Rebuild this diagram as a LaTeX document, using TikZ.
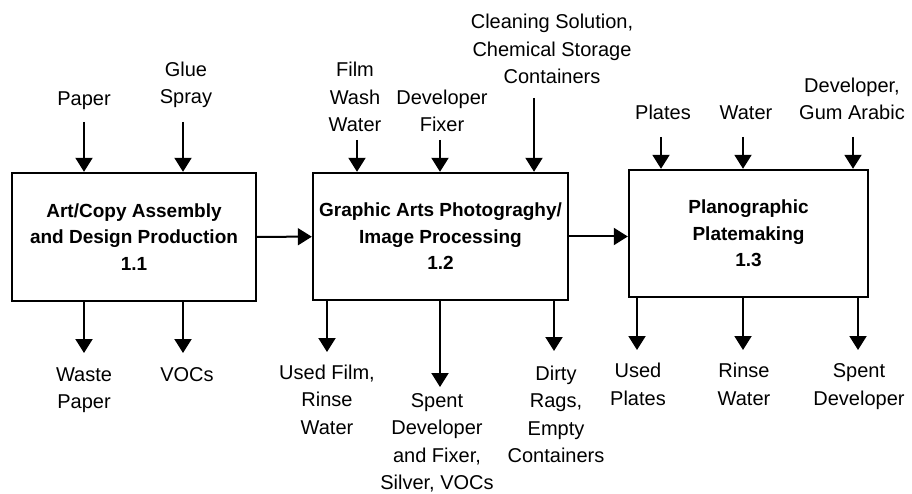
\documentclass[tikz,border=0pt]{standalone}
\usepackage{fontspec}
\setmainfont{Liberation Sans}
\usetikzlibrary{arrows.meta}

\begin{document}
\begin{tikzpicture}[x=1pt,y=-1pt,
    proc/.style={draw, line width=2.4pt, inner sep=0pt, align=center,
      font=\fontsize{19}{26.5}\selectfont\bfseries},
    lbl/.style={inner sep=0pt, align=center, anchor=base,
      font=\fontsize{20}{27.5}\selectfont},
    flow/.style={line width=2pt, -{Triangle[length=14pt,width=17pt]}}]
\useasboundingbox (0,0) rectangle (912,494);

\node[proc, minimum width=244pt, minimum height=128pt] (b1) at (134,237)
  {Art/Copy Assembly\\and Design Production\\1.1};
\node[proc, minimum width=255pt, minimum height=127pt] (b2) at (440.5,236.5)
  {Graphic Arts Photograghy/\\Image Processing\\1.2};
\node[proc, minimum width=239pt, minimum height=127pt] (b3) at (748.5,233.5)
  {Planographic\\Platemaking\\1.3};

\draw[flow] (b1) -- (b2);
\draw[flow] (b2.east) -- (b2.east -| b3.west);

\node[lbl] (paper) at (84,106) {Paper};
\node[lbl] (glue) at (186,104) {Glue\\Spray};
\node[lbl] (film) at (355,132) {Film\\Wash\\Water};
\node[lbl] (devfix) at (442,132) {Developer\\Fixer};
\node[lbl] (clean) at (552,84) {Cleaning Solution,\\Chemical Storage\\Containers};
\node[lbl] (plates) at (663,120) {Plates};
\node[lbl] (water) at (746,120) {Water};
\node[lbl] (devgum) at (852,120) {Developer,\\Gum Arabic};

\coordinate (paper-in) at (84,122);
\coordinate (glue-in) at (183,122);
\coordinate (film-in) at (357,140);
\coordinate (devfix-in) at (440,140);
\coordinate (clean-in) at (534,98);
\coordinate (plates-in) at (661,137);
\coordinate (water-in) at (743,137);
\coordinate (devgum-in) at (853,137);

\foreach \c/\b in {paper/b1, glue/b1, film/b2, devfix/b2, clean/b2,
    plates/b3, water/b3, devgum/b3}
  \draw[flow] (\c-in) -- (\c-in |- \b.north);

\node[lbl] (waste) at (84,408.5) {Waste\\Paper};
\node[lbl] (vocs) at (187,381) {VOCs};
\node[lbl] (usedfilm) at (327,434) {Used Film,\\Rinse\\Water};
\node[lbl] (spent) at (437,489.5) {Spent\\Developer\\and Fixer,\\Silver, VOCs};
\node[lbl] (dirty) at (556,462.5) {Dirty\\Rags,\\Empty\\Containers};
\node[lbl] (usedplates) at (638,405) {Used\\Plates};
\node[lbl] (rinse) at (744,405) {Rinse\\Water};
\node[lbl] (spentdev) at (859,405) {Spent\\Developer};

\coordinate (waste-out) at (84,353);
\coordinate (vocs-out) at (183,353);
\coordinate (usedfilm-out) at (327,352);
\coordinate (spent-out) at (440,387);
\coordinate (dirty-out) at (554,351);
\coordinate (usedplates-out) at (637,350);
\coordinate (rinse-out) at (743,350);
\coordinate (spentdev-out) at (858,350);

\foreach \c/\b in {waste/b1, vocs/b1, usedfilm/b2, spent/b2, dirty/b2,
    usedplates/b3, rinse/b3, spentdev/b3}
  \draw[flow] (\c-out |- \b.south) -- (\c-out);
\end{tikzpicture}
\end{document}
